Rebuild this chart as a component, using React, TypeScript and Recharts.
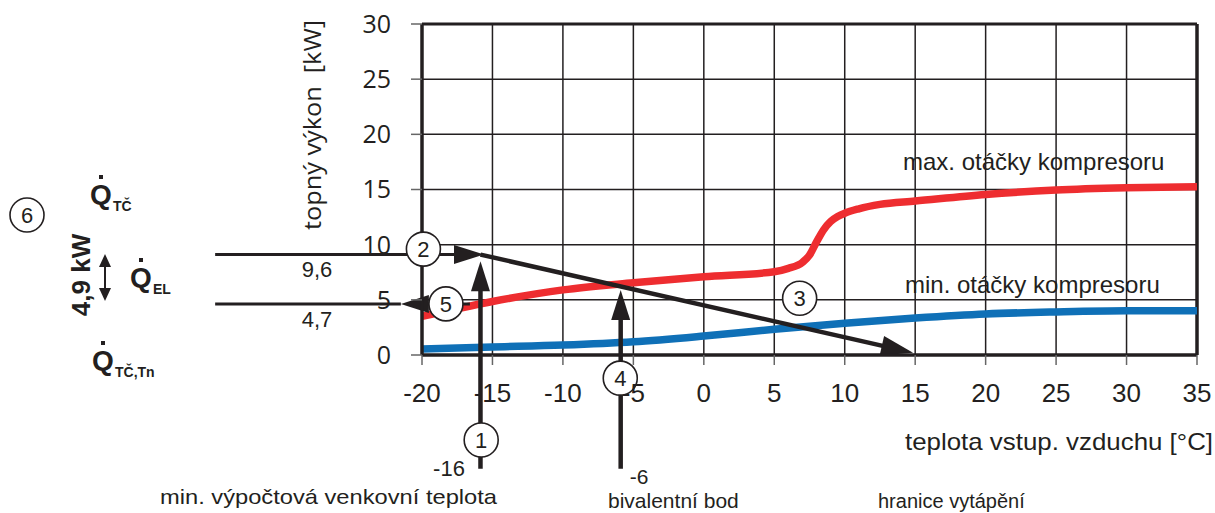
import React from "react"
import {
  ComposedChart,
  Line,
  XAxis,
  YAxis,
  CartesianGrid,
  ReferenceLine,
  ReferenceDot,
} from "recharts"

// max compressor speed (red)
const maxTemps = [-20, -15, -10, -5, 0, 5, 6, 7, 7.5, 8, 8.5, 9, 9.5, 10, 11, 12.5, 15, 20, 25, 30, 35]
const maxPower = [3.5, 4.85, 5.9, 6.55, 7.1, 7.55, 7.85, 8.4, 9.05, 10.25, 11.35, 12.1, 12.55, 12.85, 13.25, 13.65, 13.95, 14.55, 14.95, 15.15, 15.25]

// min compressor speed (blue)
const minTemps = [-20, -15, -10, -5, 0, 5, 10, 15, 20, 25, 30, 35]
const minPower = [0.55, 0.73, 0.9, 1.2, 1.72, 2.33, 2.88, 3.35, 3.72, 3.9, 4.0, 4.0]

const xTicks = [-20, -15, -10, -5, 0, 5, 10, 15, 20, 25, 30, 35]
const yTicks = [0, 5, 10, 15, 20, 25, 30]

// annotation points (temperature, kW)
const designTemp = -15.85
const bivalentTemp = -5.9
const heatingLimit = 14.85
const qHigh = 9.1
const qLow = 4.63
const farLeft = -34.68
const arrowBottom = -10.3

const markers = [
  { id: "1", x: -15.8, y: -7.7 },
  { id: "2", x: -19.9, y: 9.6 },
  { id: "3", x: 6.8, y: 5.15 },
  { id: "4", x: -5.93, y: -2.1 },
  { id: "5", x: -18.3, y: 4.63 },
]

const INK = "#231f20"
const RED = "#ee2d30"
const BLUE = "#0f70b7"
const SANS = "Liberation Sans, Arial, sans-serif"

const maxData = maxTemps.map((t, i) => ({ t, kw: maxPower[i] }))
const minData = minTemps.map((t, i) => ({ t, kw: minPower[i] }))

function arrow(width: number, head = 28, half = 9) {
  return (p: any) => {
    const { x1, y1, x2, y2 } = p
    if (x1 == null || x2 == null) return <g />
    if (!head) {
      return <line x1={x1} y1={y1} x2={x2} y2={y2} stroke={INK} strokeWidth={width} />
    }
    const dx = x2 - x1
    const dy = y2 - y1
    const len = Math.hypot(dx, dy) || 1
    const ux = dx / len
    const uy = dy / len
    const bx = x2 - ux * head
    const by = y2 - uy * head
    const nx = -uy
    const ny = ux
    return (
      <g>
        <line x1={x1} y1={y1} x2={bx + ux * 2} y2={by + uy * 2} stroke={INK} strokeWidth={width} />
        <polygon
          points={`${x2},${y2} ${bx + nx * half},${by + ny * half} ${bx - nx * half},${by - ny * half}`}
          fill={INK}
        />
      </g>
    )
  }
}

function markerShape(label: string) {
  return (p: any) => (
    <g>
      <circle cx={p.cx} cy={p.cy} r={17} fill="#fff" stroke={INK} strokeWidth={1.6} />
      <text x={p.cx} y={p.cy + 8} textAnchor="middle" fontSize={22} fontFamily={SANS} fill={INK}>
        {label}
      </text>
    </g>
  )
}

function QDot({ x, y, sub, subX }: { x: number; y: number; sub: string; subX: number }) {
  return (
    <g fontFamily={SANS} fontWeight={700} fill={INK}>
      <text x={x} y={y} fontSize={28}>Q</text>
      <rect x={x + 9} y={y - 29} width={4} height={4} fill={INK} />
      <text x={subX} y={y + 7} fontSize={14}>{sub}</text>
    </g>
  )
}

function Overlay() {
  return (
    <svg
      width={1215}
      height={513}
      style={{ position: "absolute", left: 0, top: 0, pointerEvents: "none" }}
    >
      <text
        transform="translate(321,125) rotate(-90)"
        textAnchor="middle"
        fontSize={24}
        fontFamily="Open Sans, sans-serif"
        fill={INK}
        xmlSpace="preserve"
        textLength={210}
        lengthAdjust="spacingAndGlyphs"
      >
        {"topný výkon  [kW]"}
      </text>
      <text x={905} y={450} fontSize={24} fontFamily={SANS} fill={INK} textLength={308} lengthAdjust="spacingAndGlyphs">
        teplota vstup. vzduchu [°C]
      </text>
      <text x={903} y={170} fontSize={24} fontFamily={SANS} fill={INK}>
        max. otáčky kompresoru
      </text>
      <text x={905} y={293} fontSize={24} fontFamily={SANS} fill={INK}>
        min. otáčky kompresoru
      </text>
      <text x={317} y={277} textAnchor="middle" fontSize={22} fontFamily={SANS} fill={INK}>9,6</text>
      <text x={317} y={327} textAnchor="middle" fontSize={22} fontFamily={SANS} fill={INK}>4,7</text>
      <text x={449} y={476} textAnchor="middle" fontSize={22} fontFamily={SANS} fill={INK}>-16</text>
      <text x={639} y={484} textAnchor="middle" fontSize={21} fontFamily={SANS} fill={INK}>-6</text>
      <text x={160} y={504} fontSize={21} fontFamily={SANS} fill={INK} textLength={337} lengthAdjust="spacingAndGlyphs">
        min. výpočtová venkovní teplota
      </text>
      <text x={608} y={508} fontSize={21} fontFamily={SANS} fill={INK}>bivalentní bod</text>
      <text x={878} y={508} fontSize={20} fontFamily={SANS} fill={INK}>hranice vytápění</text>

      <circle cx={27} cy={215} r={17} fill="#fff" stroke={INK} strokeWidth={1.6} />
      <text x={27} y={223} textAnchor="middle" fontSize={22} fontFamily={SANS} fill={INK}>6</text>

      <QDot x={90} y={204} sub="TČ" subX={113} />
      <QDot x={130} y={287} sub="EL" subX={153} />
      <QDot x={92} y={370} sub="TČ,Tn" subX={115} />

      <text
        transform="translate(90,275) rotate(-90)"
        textAnchor="middle"
        fontSize={26}
        fontWeight={700}
        fontFamily={SANS}
        fill={INK}
      >
        4,9 kW
      </text>
      <line x1={105} y1={264} x2={105} y2={292} stroke={INK} strokeWidth={2} />
      <polygon points="105,254 99,267 111,267" fill={INK} />
      <polygon points="105,301 99,288 111,288" fill={INK} />
    </svg>
  )
}

export default function App() {
  return (
    <div style={{ position: "absolute", left: 0, top: 0, width: 1215, height: 513, background: "#fff" }}>
      <ComposedChart
        width={1215}
        height={513}
        margin={{ top: 24, right: 18, left: 362, bottom: 98 }}
      >
        <CartesianGrid stroke={INK} strokeWidth={1.5} />
        <XAxis
          type="number"
          dataKey="t"
          domain={[-20, 35]}
          ticks={xTicks}
          allowDataOverflow
          height={60}
          tickSize={10}
          tickMargin={19}
          axisLine={{ stroke: INK, strokeWidth: 3.5 }}
          tickLine={{ stroke: "#666", strokeWidth: 1.5 }}
          tick={{ fontSize: 26, fill: INK, fontFamily: SANS }}
        />
        <YAxis
          type="number"
          domain={[0, 30]}
          ticks={yTicks}
          allowDataOverflow
          width={60}
          tickSize={11}
          tickMargin={20}
          axisLine={{ stroke: INK, strokeWidth: 3.5 }}
          tickLine={{ stroke: "#666", strokeWidth: 1.5 }}
          tick={{ fontSize: 25, fill: INK, fontFamily: "Open Sans, sans-serif" }}
        />
        <ReferenceLine y={30} stroke={INK} strokeWidth={3} />
        <ReferenceLine x={35} stroke={INK} strokeWidth={3.5} />

        <Line
          data={minData}
          dataKey="kw"
          type="monotone"
          stroke={BLUE}
          strokeWidth={7.5}
          dot={false}
          isAnimationActive={false}
        />
        <Line
          data={maxData}
          dataKey="kw"
          type="monotone"
          stroke={RED}
          strokeWidth={7.5}
          dot={false}
          isAnimationActive={false}
        />

        {/* 9,6 kW line towards design temperature */}
        <ReferenceLine
          segment={[{ x: farLeft, y: qHigh }, { x: designTemp + 0.25, y: qHigh }]}
          ifOverflow="visible"
          shape={arrow(3, 30, 9.5)}
        />
        {/* 4,7 kW line */}
        <ReferenceLine
          segment={[{ x: farLeft, y: qLow }, { x: -21.5, y: qLow }]}
          ifOverflow="visible"
          shape={arrow(3, 0)}
        />
        <ReferenceLine
          segment={[{ x: -16.6, y: qLow }, { x: -21.5, y: qLow }]}
          ifOverflow="visible"
          shape={arrow(3, 28, 9)}
        />
        {/* heating demand line down to heating limit */}
        <ReferenceLine
          segment={[{ x: designTemp, y: qHigh }, { x: heatingLimit, y: 0.2 }]}
          ifOverflow="visible"
          shape={arrow(4.5, 32, 10)}
        />
        {/* vertical arrows */}
        <ReferenceLine
          segment={[{ x: designTemp, y: arrowBottom }, { x: designTemp, y: 8.5 }]}
          ifOverflow="visible"
          shape={arrow(4.5, 30, 9.5)}
        />
        <ReferenceLine
          segment={[{ x: bivalentTemp, y: arrowBottom }, { x: bivalentTemp, y: 5.9 }]}
          ifOverflow="visible"
          shape={arrow(4.5, 30, 9.5)}
        />

        {markers.map((m) => (
          <ReferenceDot
            key={m.id}
            x={m.x}
            y={m.y}
            r={17}
            ifOverflow="visible"
            shape={markerShape(m.id)}
          />
        ))}
      </ComposedChart>
      <Overlay />
    </div>
  )
}
